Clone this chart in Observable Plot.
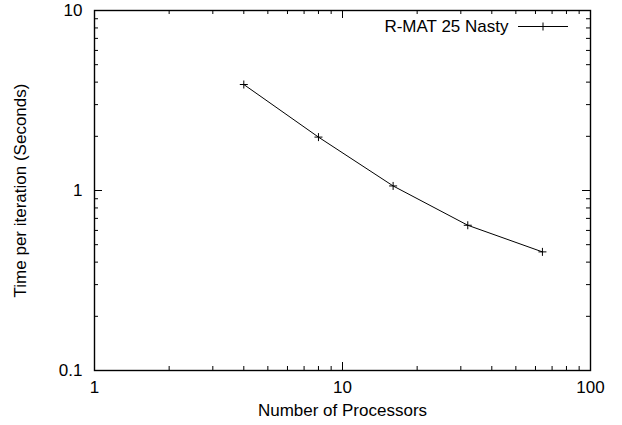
<!DOCTYPE html>
<html>
<head>
<meta charset="utf-8">
<script src="https://cdn.jsdelivr.net/npm/d3@7"></script>
<script src="https://cdn.jsdelivr.net/npm/@observablehq/plot@0.6"></script>
<style>
  html, body { margin: 0; padding: 0; background: #fff; }
  svg { display: block; }
</style>
</head>
<body>
<div id="chart"></div>
<script>
// Per-iteration time of the R-MAT 25 "Nasty" run against processor count
const processors = [4, 8, 16, 32, 64];
const seconds = [3.88, 1.98, 1.06, 0.641, 0.456];
const seriesName = "R-MAT 25 Nasty";

const xMajor = [1, 10, 100];
const xMinor = [2, 3, 4, 5, 6, 7, 8, 9, 20, 30, 40, 50, 60, 70, 80, 90];
const yMajor = [0.1, 1, 10];
const yMinor = [0.2, 0.3, 0.4, 0.5, 0.6, 0.7, 0.8, 0.9, 2, 3, 4, 5, 6, 7, 8, 9];

const W = 622, H = 425;
const M = {top: 10, right: 32, bottom: 55, left: 94};
const innerW = W - M.left - M.right;
const innerH = H - M.top - M.bottom;
const majorLen = 8, minorLen = 4;
const font = "'Liberation Sans', Arial, Helvetica, sans-serif";

// gnuplot-style "+" point symbol (stroked cross)
const cross = {
  draw(ctx, size) {
    const r = Math.sqrt(size / Math.PI);
    ctx.moveTo(-r, 0); ctx.lineTo(r, 0);
    ctx.moveTo(0, -r); ctx.lineTo(0, r);
  }
};

const data = processors.map((p, i) => ({p, t: seconds[i]}));

// inward ticks on all four sides of the frame
const xTicks = (vals, len) => [
  Plot.tickX(vals, {x: d => d, insetTop: innerH - len, stroke: "#000"}),
  Plot.tickX(vals, {x: d => d, insetBottom: innerH - len, stroke: "#000"})
];
const yTicks = (vals, len) => [
  Plot.tickY(vals, {y: d => d, insetRight: innerW - len, stroke: "#000"}),
  Plot.tickY(vals, {y: d => d, insetLeft: innerW - len, stroke: "#000"})
];

// key swatch in the upper-right corner: line sample with a "+" at its centre
function keySwatch(index, scales, values, dim) {
  const x1 = dim.width - dim.marginRight - 72;
  const x2 = dim.width - dim.marginRight - 22;
  const y = dim.marginTop + 16.5;
  const cx = (x1 + x2) / 2;
  return d3.create("svg:path")
    .attr("fill", "none")
    .attr("stroke", "#000")
    .attr("d", `M${x1},${y}H${x2}M${cx - 4},${y}h8M${cx},${y - 4}v8`)
    .node();
}

const chart = Plot.plot({
  width: W,
  height: H,
  marginTop: M.top,
  marginRight: M.right,
  marginBottom: M.bottom,
  marginLeft: M.left,
  style: {fontFamily: font, fontSize: "17px", color: "#000", background: "#fff", overflow: "visible"},
  x: {type: "log", domain: [1, 100], axis: null},
  y: {type: "log", domain: [0.1, 10], axis: null},
  marks: [
    ...xTicks(xMinor, minorLen),
    ...xTicks(xMajor, majorLen),
    ...yTicks(yMinor, minorLen),
    ...yTicks(yMajor, majorLen),
    Plot.frame({stroke: "#000", strokeWidth: 1.4}),
    Plot.text(xMajor, {x: d => d, frameAnchor: "bottom", dy: 17, lineAnchor: "middle", text: d => String(d), fill: "#000"}),
    Plot.text(yMajor, {y: d => d, frameAnchor: "left", dx: -12, textAnchor: "end", lineAnchor: "middle", text: d => String(d), fill: "#000"}),
    Plot.text(["Number of Processors"], {frameAnchor: "bottom", dy: 40, lineAnchor: "middle", fill: "#000"}),
    Plot.text(["Time per iteration (Seconds)"], {frameAnchor: "left", dx: -74, rotate: -90, textAnchor: "middle", lineAnchor: "middle", fill: "#000"}),
    Plot.line(data, {x: "p", y: "t", stroke: "#000", strokeWidth: 1}),
    Plot.dot(data, {x: "p", y: "t", symbol: cross, r: 4, stroke: "#000", strokeWidth: 1}),
    Plot.text([seriesName], {frameAnchor: "top-right", dx: -82, dy: 16.5, textAnchor: "end", lineAnchor: "middle", fill: "#000"}),
    keySwatch
  ]
});

document.getElementById("chart").appendChild(chart);
</script>
</body>
</html>
